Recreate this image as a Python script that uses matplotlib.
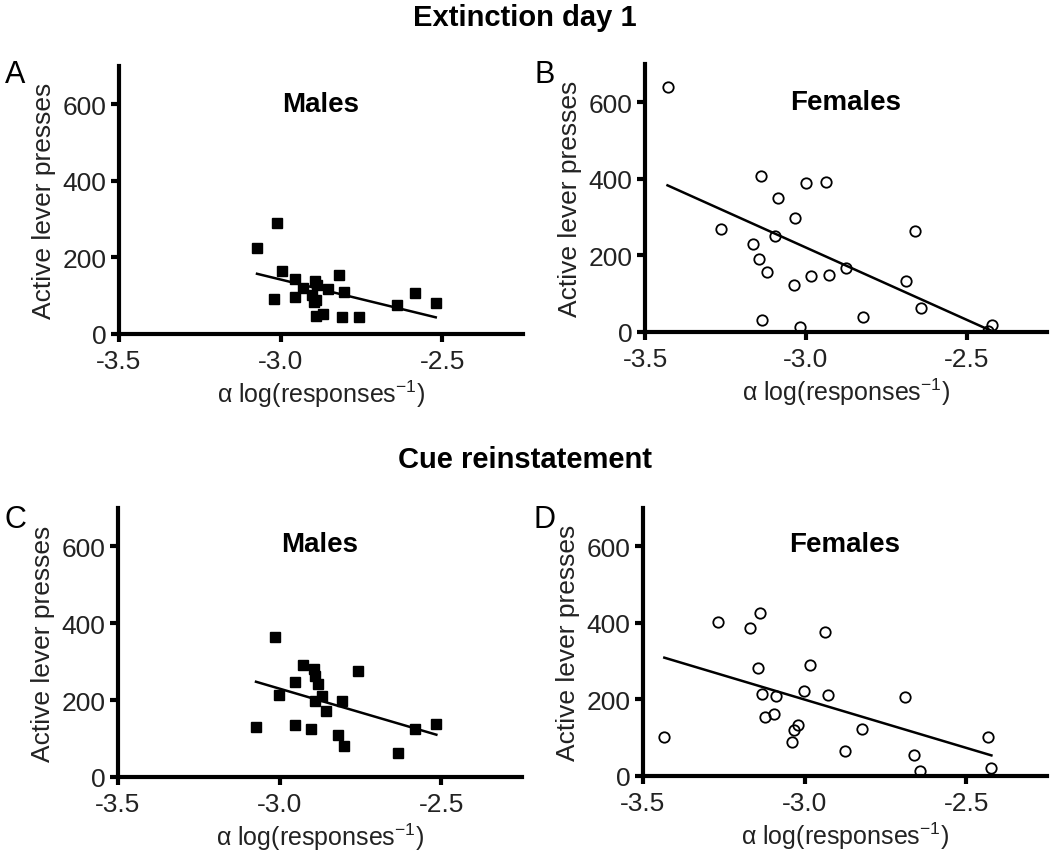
import numpy as np
import matplotlib
matplotlib.use("Agg")
from matplotlib import pyplot as plt

plt.rcParams['font.family'] = ['Liberation Sans', 'DejaVu Sans']
plt.rcParams['axes.unicode_minus'] = False
plt.rcParams['mathtext.default'] = 'regular'

# Extinction day 1, males (alpha, active lever presses)
ext_male_x = [-3.012, -3.073, -2.997, -2.955, -3.019, -2.955, -2.930, -2.894,
              -2.886, -2.904, -2.891, -2.896, -2.852, -2.819, -2.804, -2.891,
              -2.870, -2.810, -2.757, -2.639, -2.585, -2.520]
ext_male_y = [289, 224, 165, 144, 92, 97, 121, 138, 127, 103, 90, 83, 118,
              153, 109, 47, 52, 45, 45, 75, 108, 80]

# Extinction day 1, females
ext_female_x = [-3.430, -3.265, -3.163, -3.145, -3.140, -3.135, -3.000, -2.936,
                -3.087, -3.033, -3.095, -3.121, -3.038, -2.984, -2.928, -2.874,
                -2.662, -2.687, -2.642, -3.017, -2.821, -2.420, -2.435]
ext_female_y = [640, 270, 230, 190, 407, 32, 390, 393, 350, 297, 252, 157,
                122, 145, 149, 168, 263, 132, 62, 13, 40, 17, 2]

# Cue reinstatement, males
cue_male_x = [-3.013, -2.929, -2.895, -2.889, -2.882, -2.951, -3.003, -2.869,
              -2.892, -2.807, -2.855, -2.757, -3.073, -2.951, -2.904, -2.820,
              -2.800, -2.634, -2.581, -2.515]
cue_male_y = [365, 291, 280, 263, 242, 246, 214, 211, 197, 198, 171, 277,
              130, 136, 125, 108, 80, 63, 125, 139]

# Cue reinstatement, females
cue_female_x = [-3.434, -3.268, -3.168, -3.139, -3.144, -3.132, -3.090, -3.121,
                -3.095, -2.938, -2.984, -3.002, -2.929, -3.020, -3.033, -3.040,
                -2.823, -2.875, -2.689, -2.663, -2.642, -2.433, -2.422]
cue_female_y = [101, 402, 387, 425, 283, 213, 208, 154, 162, 376, 291, 221,
                212, 133, 119, 89, 123, 65, 206, 55, 12, 102, 21]

x_ticks = [-3.5, -3.0, -2.5]
y_ticks = [0, 200, 400, 600]

W, H = 1050, 853
fig = plt.figure(figsize=(W / 100, H / 100), dpi=100)


def px_axes(left, right, top, bottom):
    return fig.add_axes([left / W, 1 - bottom / H, (right - left) / W, (bottom - top) / H])


def draw_panel(ax, xs, ys, filled, title, title_y):
    xs = np.array(xs)
    ys = np.array(ys)
    if filled:
        ax.plot(xs, ys, 's', color='black', markersize=7.5, linestyle='none')
    else:
        ax.plot(xs, ys, 'o', markerfacecolor='none', markeredgecolor='black',
                markersize=7.5, markeredgewidth=1.3, linestyle='none')
    slope, intercept = np.polyfit(xs, ys, 1)
    line_x = np.array([xs.min(), xs.max()])
    ax.plot(line_x, slope * line_x + intercept, color='black', linewidth=1.8)

    ax.set_xlim(-3.5, -2.25)
    ax.set_ylim(0, 700)
    ax.set_xticks(x_ticks)
    ax.set_xticklabels([f"{t:.1f}" for t in x_ticks])
    ax.set_yticks(y_ticks)
    ax.spines['top'].set_visible(False)
    ax.spines['right'].set_visible(False)
    ax.spines['left'].set_linewidth(3)
    ax.spines['bottom'].set_linewidth(3)
    ax.tick_params(direction='out', length=6, width=3, labelsize=19,
                   labelcolor='#222222', pad=3)
    ax.tick_params(axis='x', pad=5)
    ax.set_xlabel("α log(responses$^{-1}$)", fontsize=18, labelpad=3,
                  color='#222222')
    ax.set_ylabel("Active lever presses", fontsize=19, labelpad=5,
                  color='#222222')
    ax.set_title(title, fontsize=20, fontweight='bold', y=title_y)
    ax.patch.set_alpha(0)


ax_a = px_axes(119, 523, 67, 335)
ax_b = px_axes(645, 1047, 65, 333)
ax_c = px_axes(118, 522, 509, 778)
ax_d = px_axes(643, 1047, 509, 777)

draw_panel(ax_a, ext_male_x, ext_male_y, True, "Males", 0.80)
draw_panel(ax_b, ext_female_x, ext_female_y, False, "Females", 0.80)
draw_panel(ax_c, cue_male_x, cue_male_y, True, "Males", 0.81)
draw_panel(ax_d, cue_female_x, cue_female_y, False, "Females", 0.81)

fig.text(525 / W, 1 - 18 / H, "Extinction day 1", fontsize=21, fontweight='bold',
         ha='center', va='center')
fig.text(525 / W, 1 - 460 / H, "Cue reinstatement", fontsize=21, fontweight='bold',
         ha='center', va='center')

for letter, (lx, ly) in zip("ABCD", [(15, 75), (545, 75), (15, 520), (545, 520)]):
    fig.text(lx / W, 1 - ly / H, letter, fontsize=22, ha='center', va='center')

plt.savefig("out.png", dpi=100)
